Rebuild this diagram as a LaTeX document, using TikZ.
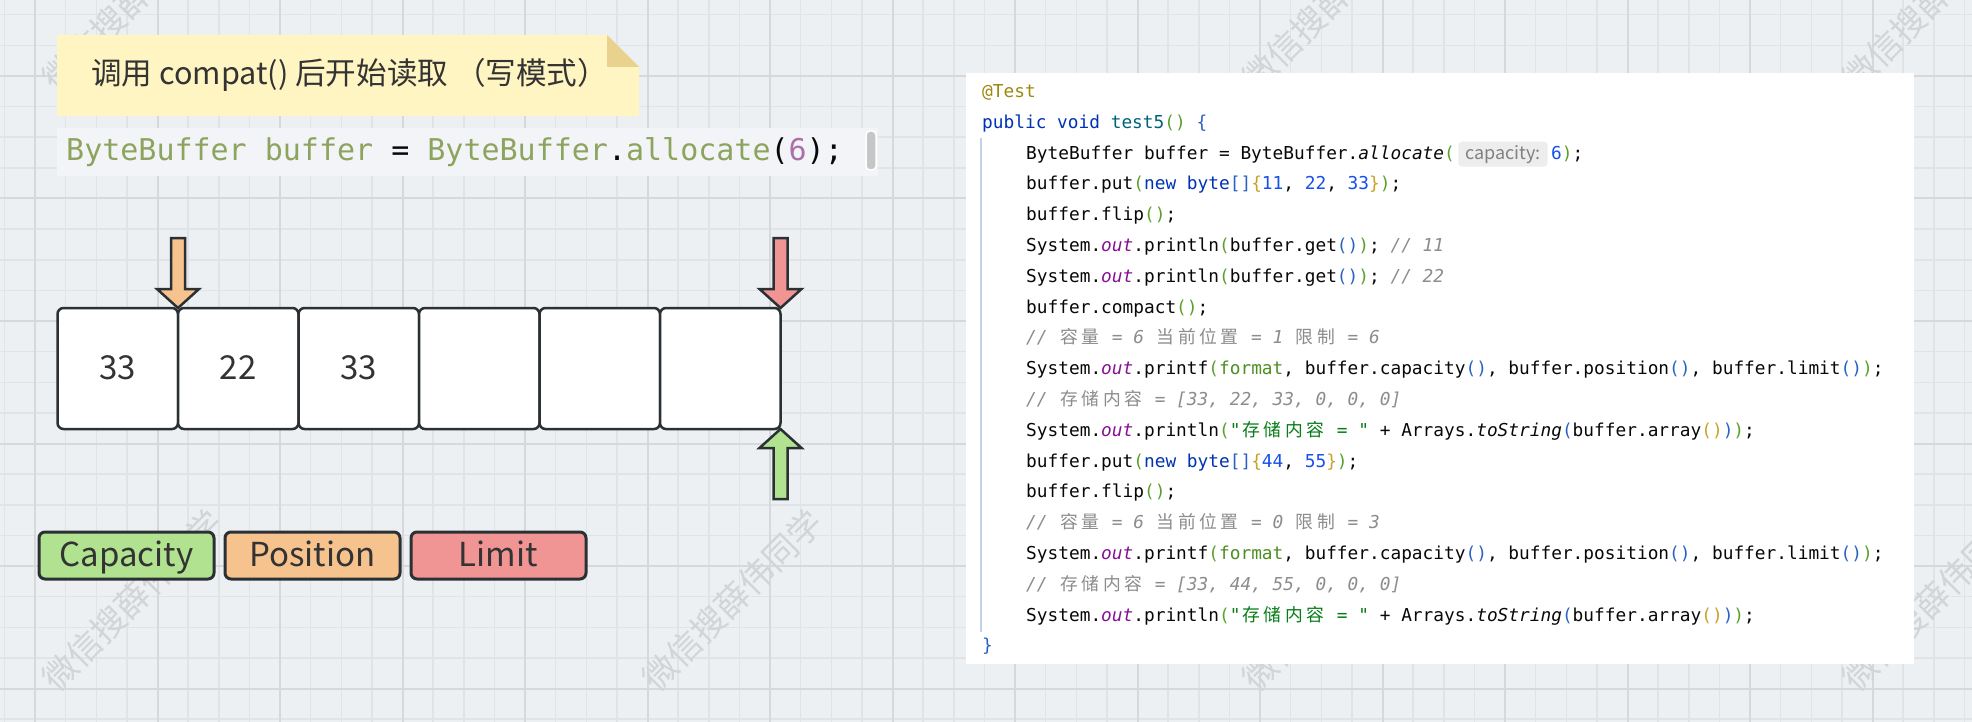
\documentclass[tikz,border=0pt]{standalone}
\usepackage{fontspec}
\usepackage{tikz}
\usetikzlibrary{positioning}

\newfontfamily\cjkfont{Noto Sans CJK SC}
\newfontfamily\monofont{DejaVu Sans Mono}

\definecolor{bggrey}{HTML}{EDF0F2}
\definecolor{gridminor}{HTML}{E1E4E6}
\definecolor{gridmajor}{HTML}{D6D9DC}
\definecolor{wmgrey}{HTML}{D2D5D8}
\definecolor{inkdark}{HTML}{2B3035}
\definecolor{textdark}{HTML}{333333}
\definecolor{capgreen}{HTML}{B1E28F}
\definecolor{posorange}{HTML}{F6C28D}
\definecolor{limred}{HTML}{F09494}
\definecolor{notefill}{HTML}{FFF5C2}
\definecolor{notefold}{HTML}{E8D28E}
\definecolor{stripbg}{HTML}{F3F4F8}
\definecolor{stripolive}{HTML}{8DA45E}
\definecolor{strippurple}{HTML}{A970A9}
\definecolor{bargrey}{HTML}{C6C6C6}
% code colours
\definecolor{codeink}{HTML}{080808}
\definecolor{kwblue}{HTML}{0033B3}
\definecolor{fnteal}{HTML}{00627A}
\definecolor{annot}{HTML}{9E880D}
\definecolor{numblue}{HTML}{1750EB}
\definecolor{fieldpurple}{HTML}{871094}
\definecolor{cmtgrey}{HTML}{8C8C8C}
\definecolor{strgreen}{HTML}{067D17}
\definecolor{fmtgreen}{HTML}{4C8F22}
\definecolor{brgreen}{HTML}{5AA02C}
\definecolor{brblue}{HTML}{2A62C4}
\definecolor{brgold}{HTML}{C9A227}
\definecolor{guideblue}{HTML}{C3D2E8}
\definecolor{hintbg}{HTML}{EDEDED}
\definecolor{hintgrey}{HTML}{808080}

\newcommand\jkw[1]{\textcolor{kwblue}{#1}}
\newcommand\jfn[1]{\textcolor{fnteal}{#1}}
\newcommand\jann[1]{\textcolor{annot}{#1}}
\newcommand\jnum[1]{\textcolor{numblue}{#1}}
\newcommand\jfld[1]{\textcolor{fieldpurple}{\itshape #1}}
\newcommand\jcmt[1]{\textcolor{cmtgrey}{\itshape #1}}
\newcommand\jstr[1]{\textcolor{strgreen}{#1}}
\newcommand\jfmt[1]{\textcolor{fmtgreen}{#1}}
\newcommand\jg[1]{\textcolor{brgreen}{#1}}
\newcommand\jb[1]{\textcolor{brblue}{#1}}
\newcommand\jy[1]{\textcolor{brgold}{#1}}
\makeatletter
\newcommand\zhs[1]{\@tfor\zh@c:=#1\do{\makebox[1.204em]{\cjkfont\upshape\zh@c}}}
\makeatother

\tikzset{
  cell/.style={draw=inkdark, line width=2.5pt, fill=white, rounded corners=6pt,
    minimum width=120.5pt, minimum height=121pt, inner sep=0pt, outer sep=0pt,
    text height=27pt, text depth=4.6pt,
    font=\cjkfont\fontsize{33}{33}\selectfont, text=textdark},
  legend/.style={draw=inkdark, line width=3pt, rounded corners=6pt,
    minimum width=175pt, minimum height=47pt, inner sep=0pt, outer sep=0pt,
    text height=26.4pt, text depth=5.3pt,
    font=\cjkfont\fontsize{33}{33}\selectfont, text=textdark},
  ptr/.pic={\draw[pic actions] (0,0) -- (-21,-19) -- (-7,-19) -- (-7,-70)
    -- (7,-70) -- (7,-19) -- (21,-19) -- cycle;},
  ptrstyle/.style={draw=inkdark, line width=2.5pt, line join=miter},
  wmark/.style={rotate=45, font=\cjkfont\fontsize{34}{34}\selectfont, text=wmgrey},
  code/.style={anchor=base west, inner sep=0pt,
    font=\monofont\fontsize{17.8}{20}\selectfont, text=codeink},
  hint/.style={fill=hintbg, rounded corners=4pt, inner xsep=7pt, inner ysep=0pt,
    minimum height=25pt, font=\cjkfont\fontsize{18}{18}\selectfont, text=hintgrey}
}

\begin{document}
\begin{tikzpicture}[x=1pt, y=-1pt]
\useasboundingbox (0,0) rectangle (1972,722);

% canvas grid
\fill[bggrey] (0,0) rectangle (1972,722);
\foreach \gx in {0,...,64}
  \draw[gridminor, line width=1.5pt] ({4.375+30.625*\gx},0) -- ++(0,722);
\foreach \gy in {0,...,23}
  \draw[gridminor, line width=1.5pt] (0,{14.75+30.625*\gy}) -- ++(1972,0);
\foreach \gx in {0,...,15}
  \draw[gridmajor, line width=2pt] ({35+122.5*\gx},0) -- ++(0,722);
\foreach \gy in {0,...,5}
  \draw[gridmajor, line width=2pt] (0,{76+122.5*\gy}) -- ++(1972,0);

% watermarks
\foreach \wx/\wy [count=\w] in {132/0, 1332/0, 1932/0, 132/600, 732/600, 1332/600, 1932/600}
  \node[wmark] (wm\w) at (\wx,\wy) {微信搜薛伟同学};

% note
\fill[notefill] (57,35) -- (607,35) -- (639,67) -- (639,116) -- (57,116) -- cycle;
\fill[notefold] (607,35) -- (639,67) -- (607,67) -- cycle;
\node[anchor=west, inner sep=0pt, font=\cjkfont\fontsize{30.6}{36}\selectfont, text=textdark]
  (hdr) at (91,75) {调用 compat() 后开始读取 （写模式）};

% allocate line
\fill[stripbg] (57,128) rectangle (878,176);
\node[anchor=west, inner sep=0pt, font=\monofont\fontsize{30}{30}\selectfont, text=codeink]
  (alloc) at (66,152) {\textcolor{stripolive}{ByteBuffer buffer} = \textcolor{stripolive}{ByteBuffer}.\textcolor{stripolive}{allocate}(\textcolor{strippurple}{6});};
\draw[white, fill=bargrey, rounded corners=4pt, line width=1.5pt] (866,131) rectangle (876,170);

% buffer cells
\node[cell] (c0) at (117.75,368.5) {33};
\node[cell, right=0pt of c0] (c1) {22};
\node[cell, right=0pt of c1] (c2) {33};
\node[cell, right=0pt of c2] (c3) {};
\node[cell, right=0pt of c3] (c4) {};
\node[cell, right=0pt of c4] (c5) {};

% pointers
\pic[ptrstyle, fill=posorange] at (c0.north east) {ptr};
\pic[ptrstyle, fill=limred] at (c5.north east) {ptr};
\pic[ptrstyle, fill=capgreen, rotate=180] at (c5.south east) {ptr};

% legend
\node[legend, fill=capgreen] (cap) at (126.5,555.5) {Capacity};
\node[legend, fill=posorange, right=11pt of cap] (pos) {Position};
\node[legend, fill=limred, right=11pt of pos] (lim) {Limit};

% code panel
\fill[white] (966,73) rectangle (1914,664);
\draw[guideblue, line width=1.2pt] (981,138) -- (981,632);

\node[code] (l0) at (982,97.5) {\jann{@Test}};
\node[code] (l1) at (982,128.3) {\jkw{public void} \jfn{test5}\jg{()} \jb{\{}};
\node[code] (l2) at (1026,159.1) {ByteBuffer buffer = ByteBuffer.\textit{allocate}\jg{(}};
\node[hint, right=3pt of l2] (capHint) {capacity:};
\node[code, right=3pt of capHint] (l2b) {\jnum{6}\jg{)};};
\node[code] (l3) at (1026,189.9) {buffer.put\jg{(}\jkw{new byte}\jb{[]}\jy{\{}\jnum{11}, \jnum{22}, \jnum{33}\jy{\}}\jg{)};};
\node[code] (l4) at (1026,220.7) {buffer.flip\jg{()};};
\node[code] (l5) at (1026,251.5) {System.\jfld{out}.println\jg{(}buffer.get\jb{()}\jg{)}; \jcmt{// 11}};
\node[code] (l6) at (1026,282.3) {System.\jfld{out}.println\jg{(}buffer.get\jb{()}\jg{)}; \jcmt{// 22}};
\node[code] (l7) at (1026,313.1) {buffer.compact\jg{()};};
\node[code] (l8) at (1026,343.9) {\jcmt{// \zhs{容量} = 6 \zhs{当前位置} = 1 \zhs{限制} = 6}};
\node[code] (l9) at (1026,374.7) {System.\jfld{out}.printf\jg{(}\jfmt{format}, buffer.capacity\jb{()}, buffer.position\jb{()}, buffer.limit\jb{()}\jg{)};};
\node[code] (l10) at (1026,405.5) {\jcmt{// \zhs{存储内容} = [33, 22, 33, 0, 0, 0]}};
\node[code] (l11) at (1026,436.3) {System.\jfld{out}.println\jg{(}\jstr{"\zhs{存储内容} = "} + Arrays.\textit{toString}\jb{(}buffer.array\jy{()}\jb{)}\jg{)};};
\node[code] (l12) at (1026,467.1) {buffer.put\jg{(}\jkw{new byte}\jb{[]}\jy{\{}\jnum{44}, \jnum{55}\jy{\}}\jg{)};};
\node[code] (l13) at (1026,497.9) {buffer.flip\jg{()};};
\node[code] (l14) at (1026,528.7) {\jcmt{// \zhs{容量} = 6 \zhs{当前位置} = 0 \zhs{限制} = 3}};
\node[code] (l15) at (1026,559.5) {System.\jfld{out}.printf\jg{(}\jfmt{format}, buffer.capacity\jb{()}, buffer.position\jb{()}, buffer.limit\jb{()}\jg{)};};
\node[code] (l16) at (1026,590.3) {\jcmt{// \zhs{存储内容} = [33, 44, 55, 0, 0, 0]}};
\node[code] (l17) at (1026,621.1) {System.\jfld{out}.println\jg{(}\jstr{"\zhs{存储内容} = "} + Arrays.\textit{toString}\jb{(}buffer.array\jy{()}\jb{)}\jg{)};};
\node[code] (l18) at (982,651.9) {\jb{\}}};

\end{tikzpicture}
\end{document}
